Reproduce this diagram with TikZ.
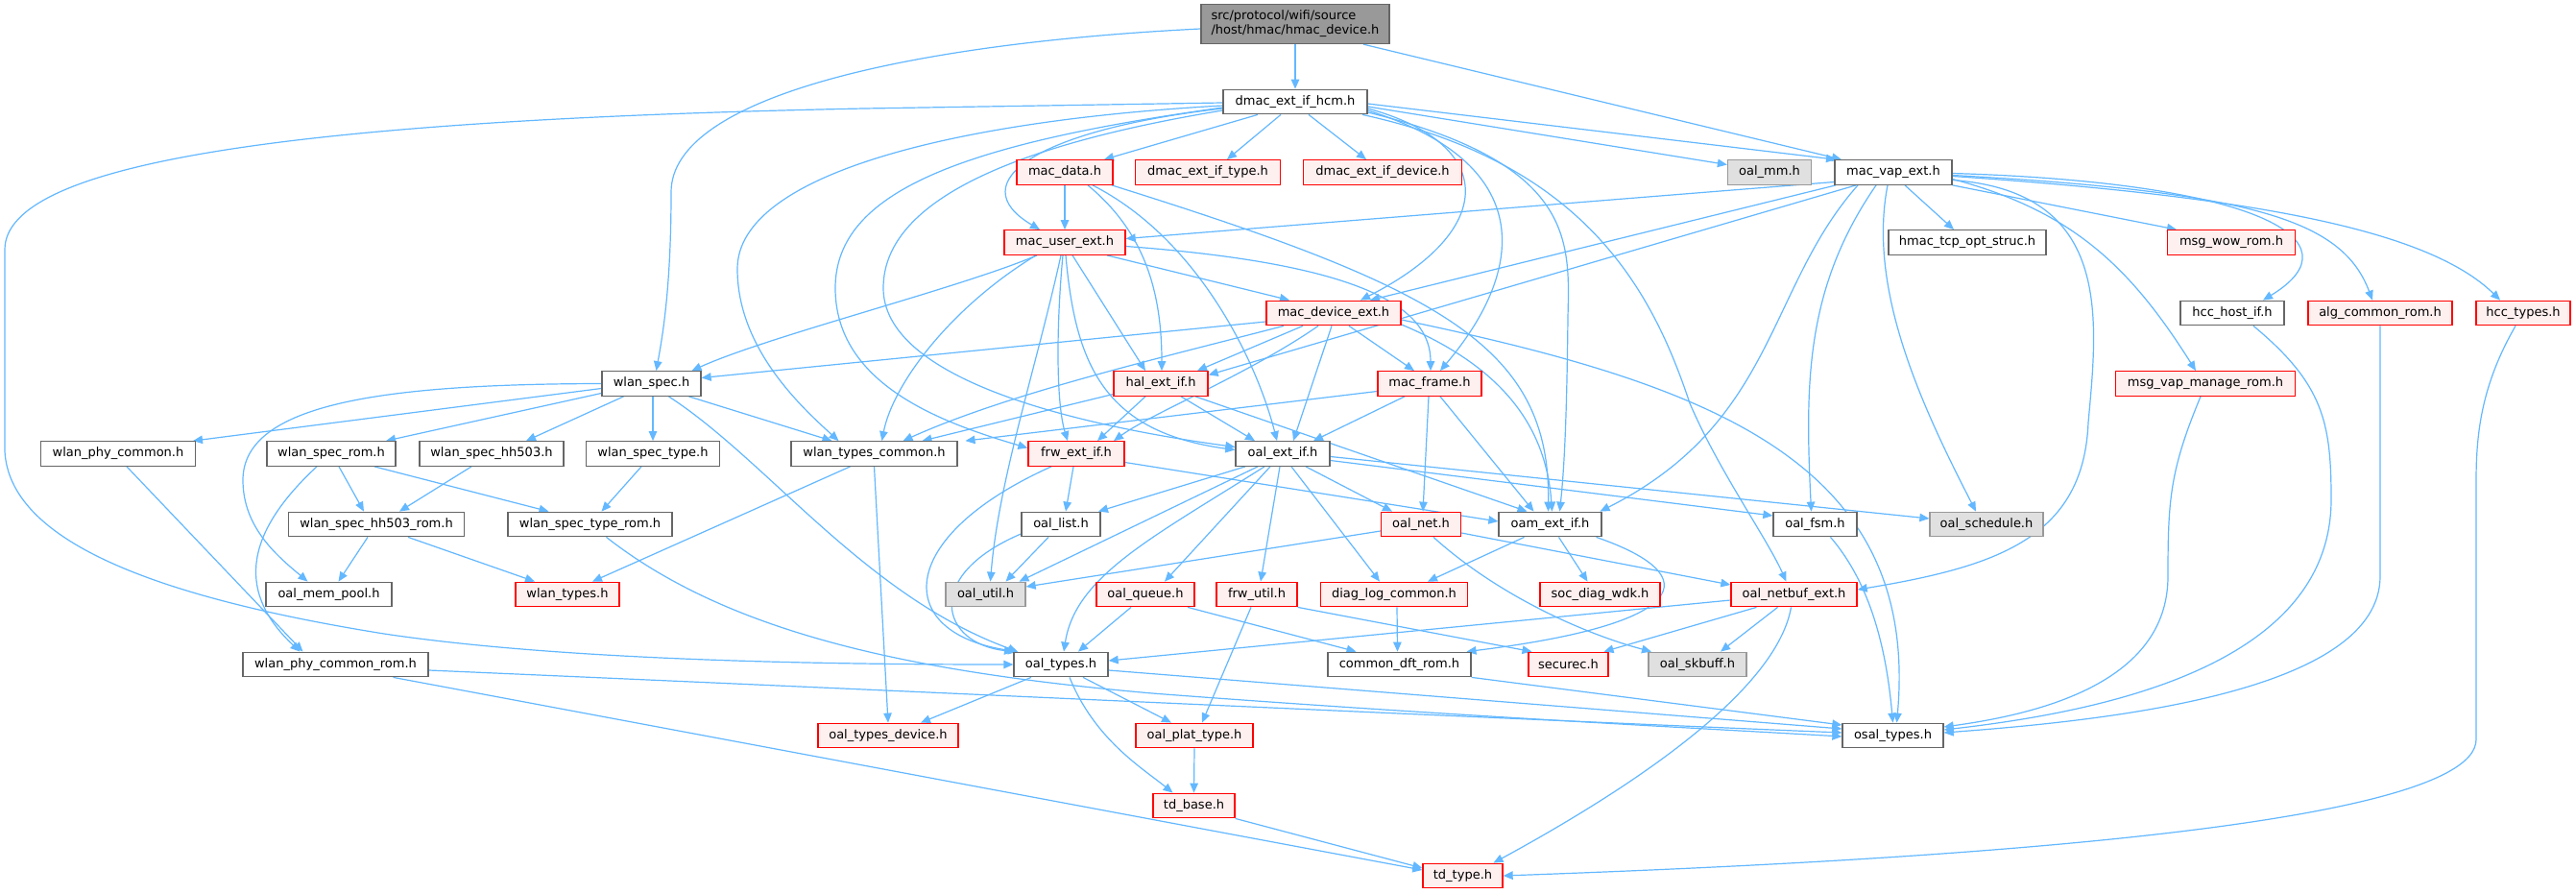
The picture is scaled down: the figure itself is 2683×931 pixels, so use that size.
\documentclass[tikz,border=0pt]{standalone}
\usepackage{fontspec}
\setmainfont{DejaVu Sans}
\usetikzlibrary{arrows.meta}
\definecolor{edgec}{HTML}{63B8FF}
\definecolor{ngray}{HTML}{666666}
\definecolor{rfill}{HTML}{FFF0F0}
\definecolor{gfill}{HTML}{E0E0E0}
\definecolor{gbord}{HTML}{999999}
\definecolor{topfill}{HTML}{999999}
\pgfdeclarelayer{background}
\pgfsetlayers{background,main}
\begin{document}
\begin{tikzpicture}[x=1pt,y=-1pt,
  nd/.style={draw=ngray, fill=white, line width=1.3pt, minimum height=25.5pt, inner sep=0pt, font=\fontsize{13}{15}\selectfont},
  rd/.style={nd, draw=red, fill=rfill},
  gd/.style={nd, draw=gbord, fill=gfill},
  topnode/.style={nd, fill=topfill, minimum height=41pt, align=left},
  e/.style={draw=edgec, line width=1.2pt, -{Triangle[length=10pt,width=8.5pt]}}]
\useasboundingbox (0,0) rectangle (2683,931);
% nodes
\node[topnode, minimum width=196pt] (H) at (1349,25) {src/protocol/wifi/source\\/host/hmac/hmac\_device.h};
\node[nd, minimum width=150pt] (D) at (1349,106) {dmac\_ext\_if\_hcm.h};
\node[rd, minimum width=100pt] (MD) at (1109,179.5) {mac\_data.h};
\node[rd, minimum width=151pt] (DT) at (1258,179.5) {dmac\_ext\_if\_type.h};
\node[rd, minimum width=165pt] (DD) at (1440,179.5) {dmac\_ext\_if\_device.h};
\node[gd, minimum width=87pt] (MM) at (1843,179.5) {oal\_mm.h};
\node[nd, minimum width=122pt] (V) at (1972,179.5) {mac\_vap\_ext.h};
\node[rd, minimum width=126pt] (U) at (1109,252.5) {mac\_user\_ext.h};
\node[nd, minimum width=164pt] (TCP) at (2049,252.5) {hmac\_tcp\_opt\_struc.h};
\node[rd, minimum width=133pt] (WOW) at (2324,252.5) {msg\_wow\_rom.h};
\node[rd, minimum width=140pt] (DE) at (1389,326) {mac\_device\_ext.h};
\node[nd, minimum width=108pt] (HCI) at (2325,326) {hcc\_host\_if.h};
\node[rd, minimum width=150pt] (ALG) at (2479,326) {alg\_common\_rom.h};
\node[rd, minimum width=98pt] (HT) at (2628,326) {hcc\_types.h};
\node[nd, minimum width=103pt] (WS) at (678.5,399.5) {wlan\_spec.h};
\node[rd, minimum width=98pt] (HA) at (1209,399.5) {hal\_ext\_if.h};
\node[rd, minimum width=108pt] (MF) at (1489,399.5) {mac\_frame.h};
\node[rd, minimum width=187pt] (MVM) at (2297,399.5) {msg\_vap\_manage\_rom.h};
\node[nd, minimum width=161pt] (WPC) at (123,472.5) {wlan\_phy\_common.h};
\node[nd, minimum width=134pt] (WSR) at (345,472.5) {wlan\_spec\_rom.h};
\node[nd, minimum width=150pt] (WHH) at (512,472.5) {wlan\_spec\_hh503.h};
\node[nd, minimum width=139pt] (WST) at (680,472.5) {wlan\_spec\_type.h};
\node[nd, minimum width=173pt] (WTC) at (910.5,472.5) {wlan\_types\_common.h};
\node[rd, minimum width=100pt] (F) at (1121,472.5) {frw\_ext\_if.h};
\node[nd, minimum width=98pt] (O) at (1336,472.5) {oal\_ext\_if.h};
\node[nd, minimum width=183pt] (WHR) at (392,546) {wlan\_spec\_hh503\_rom.h};
\node[nd, minimum width=171pt] (WTR) at (614.5,546) {wlan\_spec\_type\_rom.h};
\node[nd, minimum width=82pt] (OL) at (1105,546) {oal\_list.h};
\node[rd, minimum width=83pt] (ON) at (1480,546) {oal\_net.h};
\node[nd, minimum width=107pt] (OAM) at (1614.5,546) {oam\_ext\_if.h};
\node[nd, minimum width=87pt] (FSM) at (1890.5,546) {oal\_fsm.h};
\node[gd, minimum width=118pt] (SCH) at (2069,546) {oal\_schedule.h};
\node[nd, minimum width=131pt] (MP) at (342.5,619) {oal\_mem\_pool.h};
\node[rd, minimum width=108pt] (WT) at (591,619) {wlan\_types.h};
\node[gd, minimum width=83pt] (UT) at (1026.5,619) {oal\_util.h};
\node[rd, minimum width=102pt] (Q) at (1193,619) {oal\_queue.h};
\node[rd, minimum width=84pt] (FU) at (1309,619) {frw\_util.h};
\node[rd, minimum width=153pt] (DL) at (1452,619) {diag\_log\_common.h};
\node[rd, minimum width=125pt] (SOC) at (1666.5,619) {soc\_diag\_wdk.h};
\node[rd, minimum width=131pt] (NB) at (1868.5,619) {oal\_netbuf\_ext.h};
\node[nd, minimum width=193pt] (WPR) at (349.5,692) {wlan\_phy\_common\_rom.h};
\node[nd, minimum width=98pt] (OT) at (1105,692) {oal\_types.h};
\node[nd, minimum width=149pt] (CD) at (1457.5,692) {common\_dft\_rom.h};
\node[rd, minimum width=83pt] (SEC) at (1633.5,692) {securec.h};
\node[gd, minimum width=102pt] (SKB) at (1768,692) {oal\_skbuff.h};
\node[rd, minimum width=146pt] (OTD) at (925,766) {oal\_types\_device.h};
\node[rd, minimum width=122pt] (PT) at (1244,766) {oal\_plat\_type.h};
\node[nd, minimum width=105pt] (OS) at (1971.5,766) {osal\_types.h};
\node[rd, minimum width=85pt] (TB) at (1243.5,839) {td\_base.h};
\node[rd, minimum width=83pt] (TT) at (1523.5,912) {td\_type.h};
% edges
\begin{pgfonlayer}{background}
\fill[white] (0,0) rectangle (2683,931);
% hmac_device
\draw[e] ([yshift=-5pt]H.west) .. controls (950,45) and (699,100) .. (699,200) .. controls (699,300) and (690,350) .. ([xshift=5pt]WS.north);
\draw[e] (H.south) -- (D.north);
\draw[e] ([xshift=71pt]H.south) -- ([xshift=-54pt]V.north);
% dmac_ext_if_hcm
\draw[e] ([xshift=-39pt]D.south) -- ([xshift=41pt]MD.north);
\draw[e] ([xshift=-15pt]D.south) -- ([xshift=20pt]DT.north);
\draw[e] ([xshift=14pt]D.south) -- ([xshift=-17pt]DD.north);
\draw[e] ([yshift=-5pt]D.east) -- ([yshift=8pt]MM.west);
\draw[e] ([yshift=-2pt]D.east) -- ([xshift=-60pt]V.north);
\draw[e] ([yshift=-7pt]D.west) .. controls (1080,135) and (1000,190) .. ([xshift=-26pt]U.north);
\draw[e] ([yshift=-7pt]D.east) .. controls (1560,150) and (1560,240) .. ([xshift=28pt]DE.north);
\draw[e] ([yshift=-9pt]D.east) .. controls (1600,170) and (1590,280) .. ([xshift=11pt]MF.north);
\draw[e] ([yshift=-11pt]D.east) .. controls (1640,170) and (1635,250) .. (1633,330) .. controls (1632,420) and (1630,480) .. ([xshift=10pt]OAM.north);
\draw[e] ([xshift=70pt]D.south) .. controls (1650,170) and (1720,300) .. (1760,420) .. controls (1790,490) and (1840,560) .. ([xshift=-8pt]NB.north);
\draw[e] ([yshift=-4pt]D.west) .. controls (1000,125) and (768,180) .. (768,280) .. controls (768,360) and (830,420) .. ([xshift=-37pt]WTC.north);
\draw[e] ([yshift=-6pt]D.west) .. controls (1000,150) and (870,200) .. (870,300) .. controls (870,400) and (980,440) .. ([yshift=6pt]F.west);
\draw[e] ([yshift=-9pt]D.west) .. controls (1000,160) and (920,230) .. (920,300) .. controls (920,390) and (1100,440) .. ([yshift=7pt]O.west);
\draw[e] ([yshift=-1pt]D.west) -- (900,113) .. controls (300,125) and (5,170) .. (5,260) -- (5,470) .. controls (10,560) and (150,620) .. (400,660) .. controls (600,690) and (900,692) .. (OT.west);
% mac_data
\draw[e] (MD.south) -- (U.north);
\draw[e] ([xshift=24pt]MD.south) .. controls (1190,240) and (1210,300) .. ([xshift=1pt]HA.north);
\draw[e] ([xshift=29pt]MD.south) .. controls (1250,250) and (1310,380) .. ([xshift=-6pt]O.north);
\draw[e] ([xshift=49pt]MD.south) .. controls (1500,300) and (1615,360) .. ([xshift=-2pt]OAM.north);
% mac_user_ext
\draw[e] ([xshift=-29pt]U.south) .. controls (1000,300) and (800,350) .. ([xshift=42pt]WS.north);
\draw[e] ([xshift=-30pt]U.south) .. controls (990,320) and (930,400) .. ([xshift=8pt]WTC.north);
\draw[e] ([xshift=44pt]U.south) -- ([xshift=-46pt]DE.north);
\draw[e] ([yshift=-4pt]U.east) .. controls (1420,275) and (1490,320) .. ([xshift=1pt]MF.north);
\draw[e] ([xshift=8pt]U.south) -- ([xshift=-16pt]HA.north);
\draw[e] ([xshift=-2pt]U.south) .. controls (1100,340) and (1100,420) .. ([xshift=-9pt]F.north);
\draw[e] ([xshift=-4pt]U.south) .. controls (1080,380) and (1040,500) .. ([xshift=5pt]UT.north);
\draw[e] ([xshift=1pt]U.south) .. controls (1120,380) and (1150,450) .. ([yshift=4pt]O.west);
% mac_device_ext
\draw[e] ([yshift=-9pt]DE.west) -- ([yshift=6pt]WS.east);
\draw[e] ([xshift=-52pt]DE.south) .. controls (1200,375) and (1050,410) .. ([xshift=30pt]WTC.north);
\draw[e] ([xshift=-32pt]DE.south) -- ([xshift=38pt]HA.north);
\draw[e] ([xshift=-16pt]DE.south) .. controls (1300,390) and (1200,430) .. ([xshift=39pt]F.north);
\draw[e] ([xshift=-2pt]DE.south) -- ([xshift=11pt]O.north);
\draw[e] ([xshift=16pt]DE.south) -- ([xshift=-16pt]MF.north);
\draw[e] ([yshift=-12pt]DE.east) .. controls (1560,380) and (1610,440) .. ([xshift=2pt]OAM.north);
\draw[e] ([yshift=-7pt]DE.east) .. controls (1780,400) and (2000,480) .. ([xshift=4pt]OS.north);
% mac_vap_ext
\draw[e] ([xshift=12pt]V.south) -- ([xshift=-14pt]TCP.north);
\draw[e] (V.south east) -- ([xshift=-57pt]WOW.north);
\draw[e] ([yshift=-1pt]V.east) .. controls (2350,190) and (2460,250) .. ([xshift=32pt]HCI.north);
\draw[e] ([yshift=-3pt]V.east) .. controls (2350,200) and (2440,230) .. ([xshift=-8pt]ALG.north);
\draw[e] ([yshift=-4pt]V.east) .. controls (2350,205) and (2530,240) .. ([xshift=-24pt]HT.north);
\draw[e] ([yshift=-7pt]V.east) .. controls (2160,220) and (2220,280) .. ([xshift=-10pt]MVM.north);
\draw[e] ([yshift=-10pt]V.west) -- ([yshift=4pt]U.east);
\draw[e] ([xshift=-60pt]V.south) -- ([xshift=38pt]DE.north);
\draw[e] ([xshift=-39pt]V.south) -- ([yshift=9pt]HA.east);
\draw[e] ([xshift=-37pt]V.south) .. controls (1840,300) and (1850,440) .. ([xshift=52pt]OAM.north);
\draw[e] ([xshift=-18pt]V.south) .. controls (1880,300) and (1880,400) .. ([xshift=-4pt]FSM.north);
\draw[e] ([xshift=-6pt]V.south) .. controls (1945,300) and (2000,420) .. ([xshift=-11pt]SCH.north);
\draw[e] ([yshift=-8pt]V.east) .. controls (2200,200) and (2185,330) .. (2175,440) .. controls (2170,560) and (2080,590) .. ([yshift=5pt]NB.east);
% hal_ext_if
\draw[e] ([yshift=-11pt]HA.west) -- ([xshift=50pt]WTC.north);
\draw[e] ([xshift=-16pt]HA.south) -- ([xshift=22pt]F.north);
\draw[e] ([xshift=21pt]HA.south) -- ([xshift=-29pt]O.north);
\draw[e] ([xshift=36pt]HA.south) -- ([xshift=-24pt]OAM.north);
% mac_frame
\draw[e] ([yshift=-8pt]MF.west) -- ([xshift=95pt]WTC.north);
\draw[e] ([xshift=-26pt]MF.south) -- ([xshift=32pt]O.north);
\draw[e] ([xshift=-1pt]MF.south) -- ([xshift=2pt]ON.north);
\draw[e] ([xshift=11pt]MF.south) -- ([xshift=-17pt]OAM.north);
% wlan_spec
\draw[e] (WS.west) .. controls (400,400) and (253,420) .. (253,500) .. controls (253,550) and (290,580) .. ([xshift=-22pt]MP.north);
\draw[e] ([yshift=-5pt]WS.west) -- ([xshift=78pt]WPC.north);
\draw[e] ([yshift=-10pt]WS.west) -- ([xshift=57pt]WSR.north);
\draw[e] ([xshift=-29pt]WS.south) -- ([xshift=36pt]WHH.north);
\draw[e] ([xshift=1.5pt]WS.south) -- (WST.north);
\draw[e] ([xshift=39pt]WS.south) -- ([xshift=-44pt]WTC.north);
\draw[e] ([xshift=18pt]WS.south) .. controls (800,480) and (900,620) .. ([xshift=-45pt]OT.north);
% wlan spec family
\draw[e] ([xshift=8pt]WSR.south) -- ([xshift=-13pt]WHR.north);
\draw[e] ([xshift=45pt]WSR.south) -- ([xshift=-43pt]WTR.north);
\draw[e] ([xshift=-15pt]WSR.south) .. controls (250,560) and (250,620) .. ([xshift=-37pt]WPR.north);
\draw[e] ([xshift=-21pt]WHH.south) -- ([xshift=24pt]WHR.north);
\draw[e] ([xshift=-12pt]WST.south) -- ([xshift=12pt]WTR.north);
\draw[e] ([xshift=-9pt]WHR.south) -- ([xshift=10pt]MP.north);
\draw[e] ([xshift=33pt]WHR.south) -- ([xshift=-34pt]WT.north);
\draw[e] ([xshift=17pt]WTR.south) .. controls (760,660) and (950,700) .. (1200,722) .. controls (1500,745) and (1800,760) .. ([yshift=-1pt]OS.west);
\draw[e] ([xshift=-25pt]WTC.south) -- ([xshift=26pt]WT.north);
\draw[e] (WTC.south) -- (OTD.north);
\draw[e] ([xshift=9pt]WPC.south) -- ([xshift=-34pt]WPR.north);
\draw[e] ([yshift=-6pt]WPR.east) .. controls (1000,722) and (1600,750) .. ([yshift=3pt]OS.west);
\draw[e] ([xshift=60pt]WPR.south) -- ([yshift=6pt]TT.west);
% frw_ext_if
\draw[e] ([xshift=-3pt]F.south) -- ([xshift=5pt]OL.north);
\draw[e] ([xshift=-26pt]F.south) .. controls (930,560) and (930,660) .. ([xshift=-45pt]OT.north);
\draw[e] ([yshift=-9pt]F.east) -- ([yshift=3pt]OAM.west);
% oal_ext_if
\draw[e] ([xshift=-39pt]O.south) -- ([xshift=39pt]OL.north);
\draw[e] ([xshift=-26pt]O.south) -- ([xshift=35pt]UT.north);
\draw[e] ([xshift=-19pt]O.south) .. controls (1200,560) and (1120,600) .. ([xshift=3pt]OT.north);
\draw[e] ([xshift=-13pt]O.south) -- ([xshift=20pt]Q.north);
\draw[e] ([xshift=-3pt]O.south) -- ([xshift=4pt]FU.north);
\draw[e] ([xshift=9pt]O.south) -- ([xshift=-15pt]DL.north);
\draw[e] ([xshift=24pt]O.south) -- ([xshift=-30pt]ON.north);
\draw[e] ([yshift=-7pt]O.east) -- ([yshift=9pt]FSM.west);
\draw[e] ([yshift=-3pt]O.east) -- ([yshift=6pt]SCH.west);
% oal_list, oal_net, oam_ext_if
\draw[e] ([xshift=-13pt]OL.south) -- ([xshift=21pt]UT.north);
\draw[e] ([yshift=-10pt]OL.west) .. controls (960,600) and (980,670) .. ([xshift=-49pt]OT.north);
\draw[e] ([yshift=-7pt]ON.west) -- ([yshift=8pt]UT.east);
\draw[e] ([yshift=-9pt]ON.east) -- ([yshift=10pt]NB.west);
\draw[e] ([xshift=13pt]ON.south) .. controls (1560,620) and (1650,660) .. ([xshift=-48pt]SKB.north);
\draw[e] ([xshift=-27pt]OAM.south) -- ([xshift=35pt]DL.north);
\draw[e] ([xshift=9pt]OAM.south) -- ([xshift=-13pt]SOC.north);
\draw[e] ([xshift=48pt]OAM.south) .. controls (1780,600) and (1760,650) .. ([xshift=70pt]CD.north);
% row 8
\draw[e] ([xshift=-15pt]Q.south) -- ([xshift=18pt]OT.north);
\draw[e] ([xshift=44pt]Q.south) -- ([xshift=-45pt]CD.north);
\draw[e] ([xshift=-6pt]FU.south) -- ([xshift=8pt]PT.north);
\draw[e] (FU.south east) -- ([xshift=-38pt]SEC.north);
\draw[e] ([xshift=3pt]DL.south) -- ([xshift=-2pt]CD.north);
\draw[e] ([yshift=-6pt]NB.west) -- ([yshift=4pt]OT.east);
\draw[e] ([xshift=-39pt]NB.south) -- ([xshift=37pt]SEC.north);
\draw[e] ([xshift=-17pt]NB.south) -- ([xshift=24pt]SKB.north);
\draw[e] ([xshift=-3pt]NB.south) .. controls (1850,720) and (1700,820) .. ([xshift=32pt]TT.north);
\draw[e] ([xshift=16pt]FSM.south) .. controls (1950,610) and (1965,680) .. (OS.north);
% oal_types and below
\draw[e] ([xshift=-31pt]OT.south) -- ([xshift=34pt]OTD.north);
\draw[e] ([xshift=23pt]OT.south) -- ([xshift=-24pt]PT.north);
\draw[e] ([xshift=9pt]OT.south) .. controls (1140,770) and (1190,800) .. ([xshift=-22pt]TB.north);
\draw[e] ([yshift=-6pt]OT.east) -- ([yshift=7pt]OS.west);
\draw[e] (CD.south east) -- ([yshift=11pt]OS.west);
\draw[e] (PT.south) -- (TB.north);
\draw[e] (TB.south east) -- ([yshift=8pt]TT.west);
% right column
\draw[e] ([xshift=-5pt]MVM.south) .. controls (2260,490) and (2258,520) .. (2258,600) .. controls (2258,700) and (2150,740) .. ([yshift=9pt]OS.east);
\draw[e] ([xshift=22pt]HCI.south) .. controls (2420,400) and (2428,440) .. (2428,520) .. controls (2428,690) and (2200,740) .. ([yshift=6pt]OS.east);
\draw[e] (ALG.south) -- (2479,600) .. controls (2479,720) and (2200,750) .. ([yshift=3pt]OS.east);
\draw[e] ([xshift=-8pt]HT.south) .. controls (2585,400) and (2579,450) .. (2579,500) -- (2579,770) .. controls (2579,870) and (1900,900) .. (TT.east);
\end{pgfonlayer}
\end{tikzpicture}
\end{document}
